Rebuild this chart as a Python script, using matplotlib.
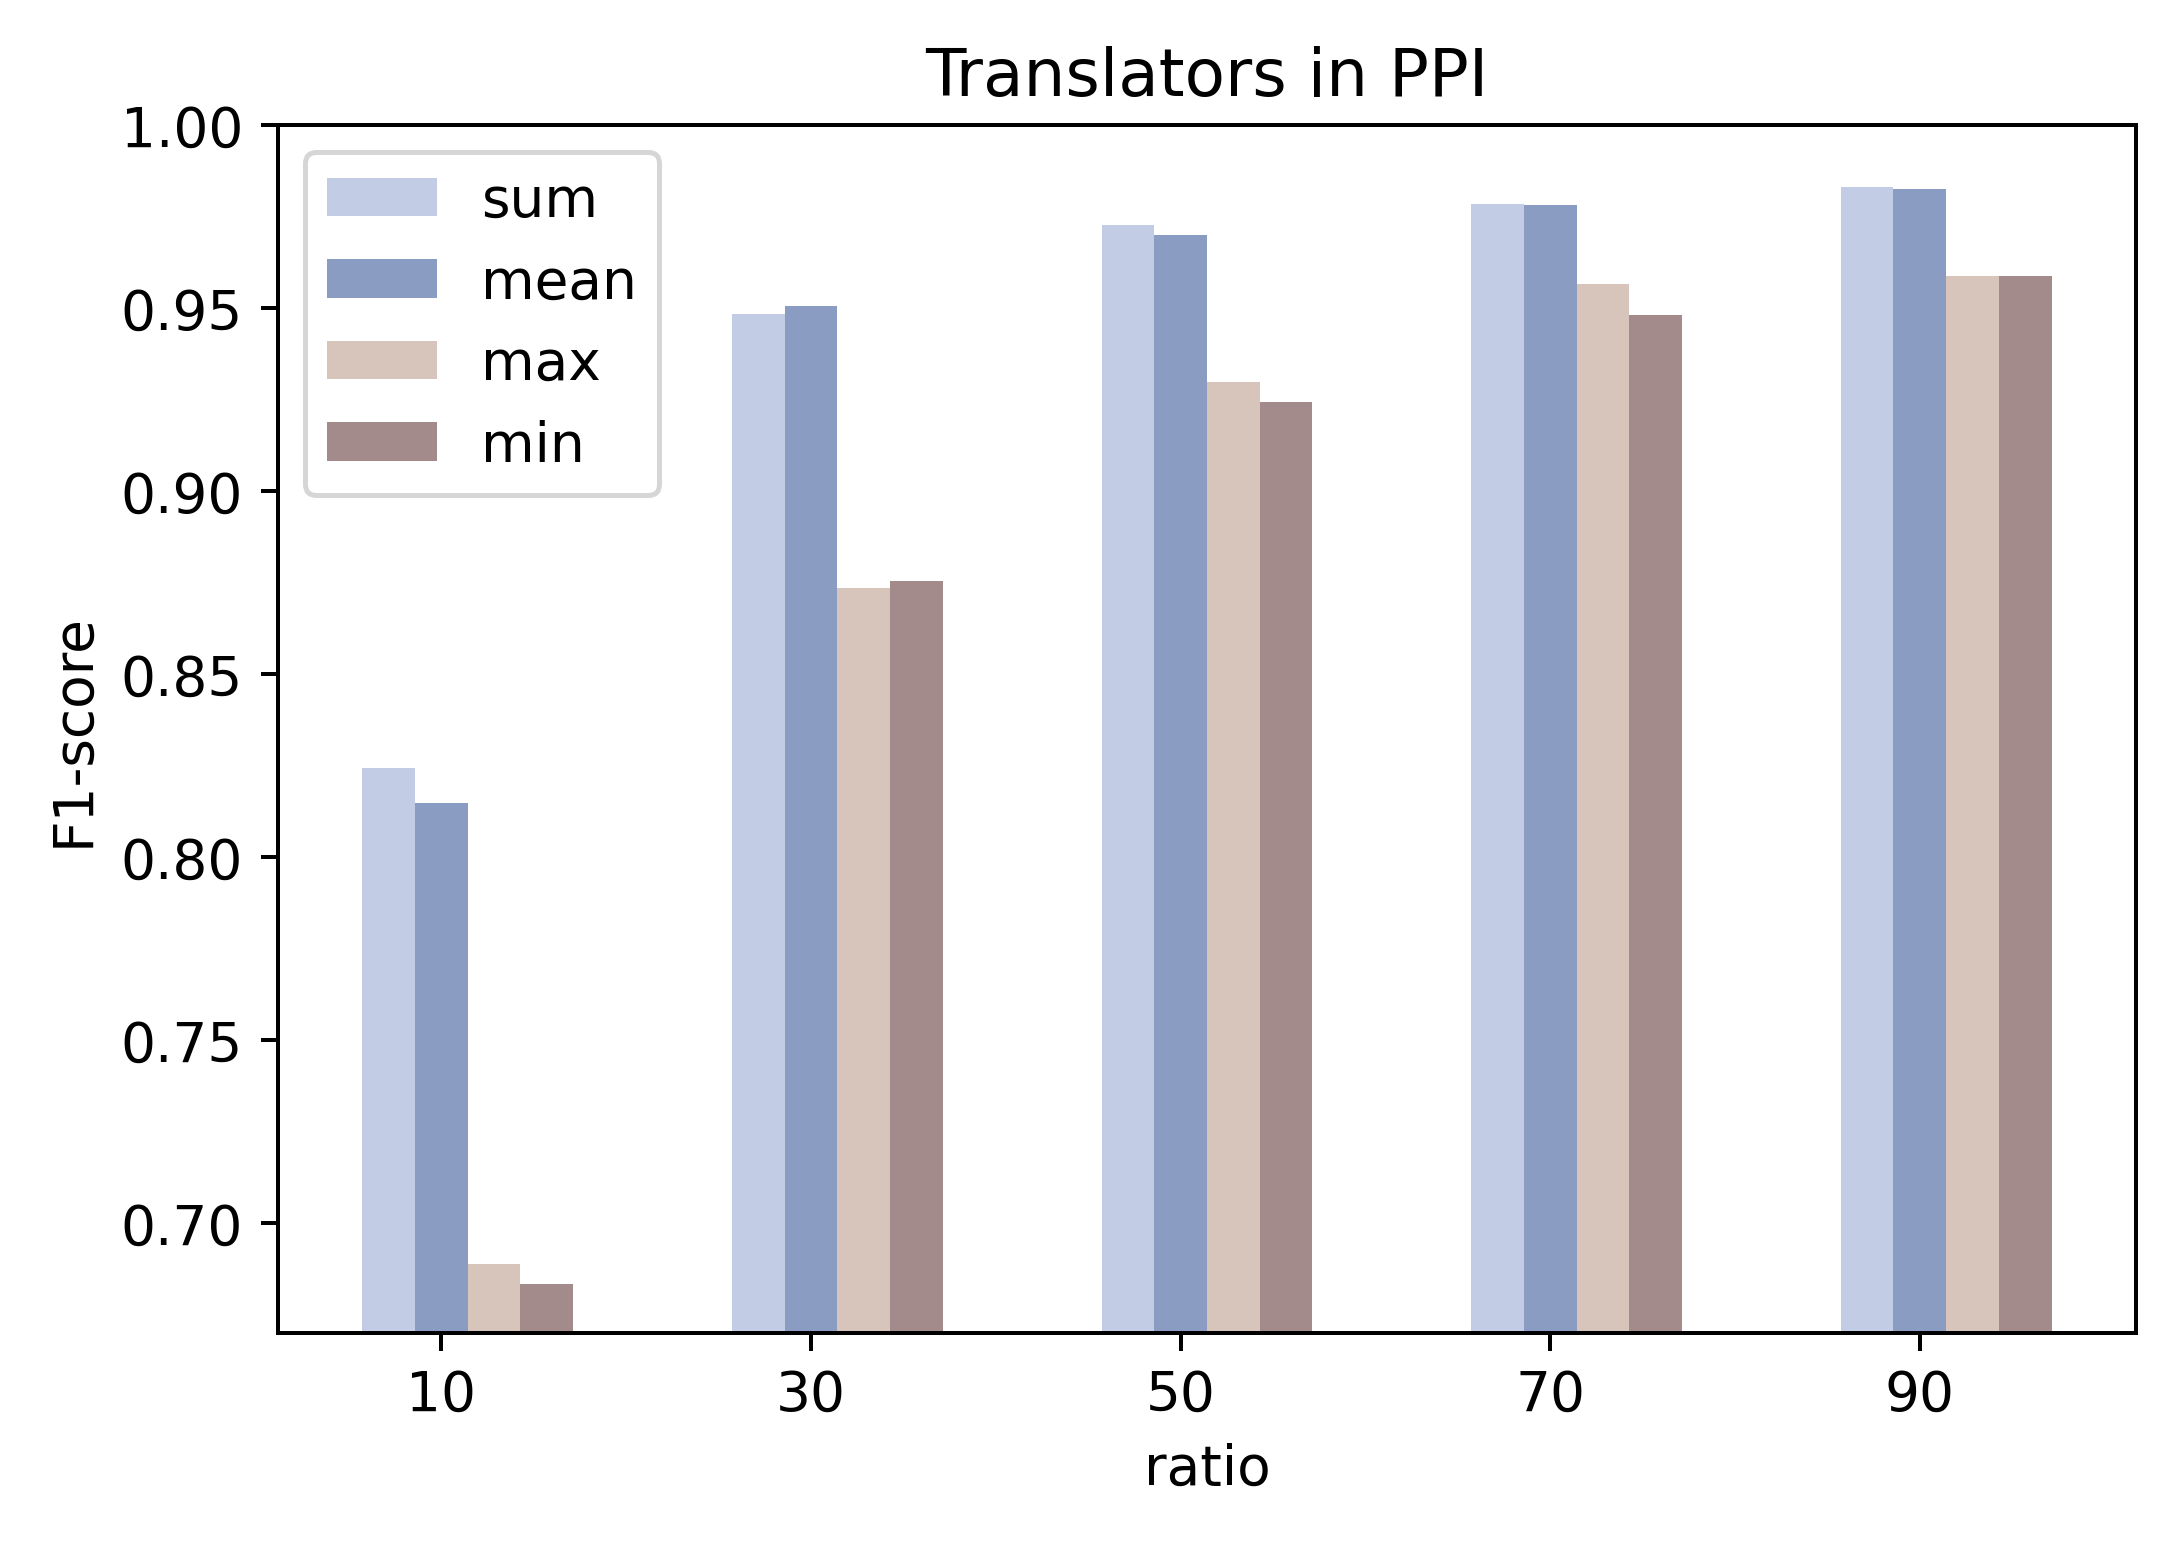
import numpy as np
import matplotlib
matplotlib.use("Agg")
import matplotlib.pyplot as plt

plt.rcParams["font.size"] = 11

ratios = [10, 30, 50, 70, 90]
sum_f1 = [0.8244, 0.9484, 0.9727, 0.9784, 0.9831]
mean_f1 = [0.8147, 0.9506, 0.9700, 0.9782, 0.9825]
max_f1 = [0.6888, 0.8736, 0.9298, 0.9566, 0.9588]
min_f1 = [0.6834, 0.8755, 0.9244, 0.9481, 0.9588]

labels = ["sum", "mean", "max", "min"]
colors = ["#c2cce4", "#8b9cc3", "#d7c5bc", "#a38b8c"]

fig = plt.figure(figsize=(6.05, 4.283), dpi=360)
ax = fig.add_axes([0.1276, 0.135, 0.8531, 0.7835])

x = np.array(ratios, dtype=float)
w = 2.85
series = [sum_f1, mean_f1, max_f1, min_f1]
for i, (vals, lab, col) in enumerate(zip(series, labels, colors)):
    ax.bar(x + (i - 1) * w, vals, width=w, color=col, label=lab)

ax.set_ylim(0.67, 1.00)
ax.set_xticks(ratios)
ax.set_title("Translators in PPI")
ax.set_xlabel("ratio")
ax.set_ylabel("F1-score")
ax.legend(loc="upper left")

fig.savefig("out.png", dpi=360)
